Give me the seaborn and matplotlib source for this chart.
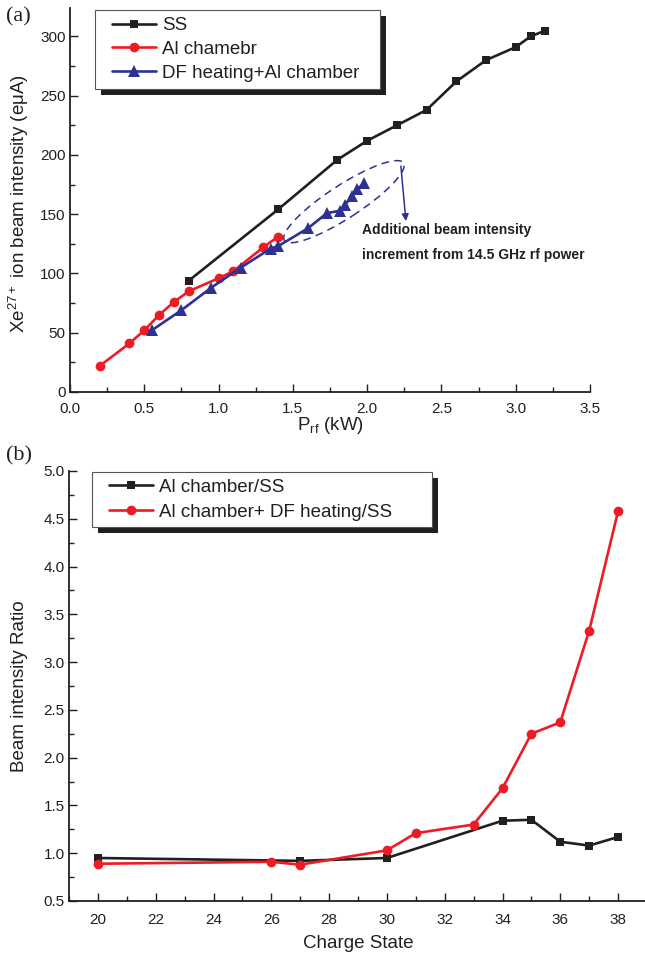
import matplotlib
matplotlib.use("Agg")
import matplotlib.pyplot as plt
import seaborn as sns
from matplotlib.patches import Ellipse, Rectangle
from matplotlib.transforms import ScaledTranslation, IdentityTransform
from matplotlib.legend_handler import HandlerLine2D
from matplotlib.lines import Line2D
from matplotlib.ticker import MultipleLocator, FormatStrFormatter

# ---------------- data ----------------
prf_ss = [0.8, 1.4, 1.8, 2.0, 2.2, 2.4, 2.6, 2.8, 3.0, 3.1, 3.2]
int_ss = [94, 154, 196, 212, 225, 238, 262, 280, 291, 300, 305]
prf_al = [0.2, 0.4, 0.5, 0.6, 0.7, 0.8, 1.0, 1.1, 1.3, 1.4]
int_al = [22, 41, 52, 65, 76, 85, 96, 102, 122, 131]
prf_df = [0.55, 0.75, 0.95, 1.15, 1.35, 1.4, 1.6, 1.73, 1.82, 1.85, 1.9, 1.93, 1.98]
int_df = [52, 69, 88, 105, 121, 123, 138, 151, 153, 158, 165, 171, 176]
labels_a = ["SS", "Al chamebr", "DF heating+Al chamber"]

cs_al = [20, 27, 30, 34, 35, 36, 37, 38]
ratio_al = [0.95, 0.92, 0.95, 1.34, 1.35, 1.12, 1.08, 1.17]
cs_aldf = [20, 26, 27, 30, 31, 33, 34, 35, 36, 37, 38]
ratio_aldf = [0.89, 0.91, 0.88, 1.03, 1.21, 1.30, 1.68, 2.25, 2.37, 3.33, 4.58]
labels_b = ["Al chamber/SS", "Al chamber+ DF heating/SS"]

BLACK = "#231f20"
RED = "#ed1c24"
BLUE = "#2e3192"

sns.set_style("ticks")
plt.rcParams["font.family"] = ["Liberation Sans", "DejaVu Sans"]
plt.rcParams["mathtext.fontset"] = "custom"
plt.rcParams["mathtext.rm"] = "Liberation Sans"
plt.rcParams["mathtext.it"] = "Liberation Sans:italic"
plt.rcParams["text.color"] = BLACK
plt.rcParams["axes.labelcolor"] = BLACK

fig = plt.figure(figsize=(6.45, 9.57), dpi=100)
ax1 = fig.add_axes([0.10853, 0.59039, 0.80620, 0.40125])
ax2 = fig.add_axes([0.10698, 0.05852, 0.89612, 0.44932])

lw = 1.9
common = dict(estimator=None, sort=False, linewidth=lw, markeredgewidth=0)
sns.lineplot(x=prf_ss, y=int_ss, ax=ax1, color=BLACK, marker="s", markersize=6,
             label=labels_a[0], zorder=3, **common)
sns.lineplot(x=prf_al, y=int_al, ax=ax1, color=RED, marker="o", markersize=7,
             label=labels_a[1], zorder=3, **common)
sns.lineplot(x=prf_df, y=int_df, ax=ax1, color=BLUE, marker="^", markersize=8,
             label=labels_a[2], zorder=4, **common)

sns.lineplot(x=cs_al, y=ratio_al, ax=ax2, color=BLACK, marker="s", markersize=6,
             label=labels_b[0], zorder=3, **common)
sns.lineplot(x=cs_aldf, y=ratio_aldf, ax=ax2, color=RED, marker="o", markersize=7,
             label=labels_b[1], zorder=4, **common)

# ---------------- axes styling ----------------
for ax in (ax1, ax2):
    sns.despine(ax=ax)
    for s in ("left", "bottom"):
        ax.spines[s].set_linewidth(1.3)
        ax.spines[s].set_color(BLACK)
    ax.tick_params(which="both", direction="in", width=1.0, color=BLACK,
                   labelsize=11, labelcolor=BLACK)
    ax.tick_params(which="major", length=6)
    ax.tick_params(which="minor", length=3.5)
    ax.tick_params(axis="y", pad=3)
    ax.set_facecolor("white")

ax1.set_xlim(0, 3.5)
ax1.set_ylim(0, 324)
ax1.xaxis.set_major_locator(MultipleLocator(0.5))
ax1.xaxis.set_minor_locator(MultipleLocator(0.25))
ax1.xaxis.set_major_formatter(FormatStrFormatter("%.1f"))
ax1.yaxis.set_major_locator(MultipleLocator(50))
ax1.yaxis.set_minor_locator(MultipleLocator(25))
ax1.yaxis.set_major_formatter(FormatStrFormatter("%d"))
ax1.tick_params(axis="x", pad=7)

ax2.set_xlim(19, 39)
ax2.set_ylim(0.5, 5.0)
ax2.xaxis.set_major_locator(MultipleLocator(2))
ax2.xaxis.set_minor_locator(MultipleLocator(1))
ax2.xaxis.set_major_formatter(FormatStrFormatter("%d"))
ax2.yaxis.set_major_locator(MultipleLocator(0.5))
ax2.yaxis.set_minor_locator(MultipleLocator(0.25))
ax2.yaxis.set_major_formatter(FormatStrFormatter("%.1f"))
ax2.tick_params(axis="x", pad=9)

ax1.set_xlabel("P$_{\\mathrm{rf}}$ (kW)", fontsize=13.5)
ax1.set_ylabel("Xe$^{27+}$ ion beam intensity (e\u03bcA)", fontsize=13.5)
ax2.set_xlabel("Charge State", fontsize=13.5)
ax2.set_ylabel("Beam intensity Ratio", fontsize=13.5)
ax1.xaxis.set_label_coords(0.5, -0.086)
ax1.yaxis.set_label_coords(-0.098, 0.49)
ax2.xaxis.set_label_coords(0.5, -0.098)
ax2.yaxis.set_label_coords(-0.085, 0.5)
for lab in (ax1.xaxis.label, ax2.xaxis.label, ax1.yaxis.label, ax2.yaxis.label):
    lab.set_va("center")
    lab.set_ha("center")

# ---------------- legends ----------------
hmap = {Line2D: HandlerLine2D(xpad=0.55)}
leg_kw = dict(loc="upper left", mode="expand", borderaxespad=0, fontsize=13.5,
              frameon=True, fancybox=False, framealpha=1, edgecolor="#555555",
              handlelength=2.9, handletextpad=0.3, handler_map=hmap)
h1, l1 = ax1.get_legend_handles_labels()
leg1 = ax1.legend(h1, l1, bbox_to_anchor=(0.048, 0.795, 0.548, 0.2),
                  borderpad=0.38, labelspacing=0.36, **leg_kw)
leg1.get_frame().set_linewidth(0.8)
h2, l2 = ax2.get_legend_handles_labels()
leg2 = ax2.legend(h2, l2, bbox_to_anchor=(0.0398, 0.798, 0.588, 0.2),
                  borderpad=0.35, labelspacing=0.42, **leg_kw)
leg2.get_frame().set_linewidth(0.8)

# ---------------- annotation (panel a) ----------------
trans = fig.dpi_scale_trans + ScaledTranslation(1.844, 160.6, ax1.transData)
ell = Ellipse((0, 0), width=1.42, height=0.33, angle=33, transform=trans,
              fill=False, edgecolor=BLUE, linestyle=(0, (5, 3.5)), linewidth=1.1)
ax1.add_artist(ell)
ax1.annotate("", xy=(2.261, 144.2), xytext=(2.227, 190.6),
             arrowprops=dict(arrowstyle="-|>", color=BLUE, lw=1.1,
                             mutation_scale=10, shrinkA=0, shrinkB=0))
ax1.text(1.963, 136.6, "Additional beam intensity", fontsize=10,
         fontweight="bold", va="center", ha="left", color=BLACK)
ax1.text(1.963, 115.5, "increment from 14.5 GHz rf power", fontsize=10,
         fontweight="bold", va="center", ha="left", color=BLACK)

# panel labels
fig.text(6 / 645, 1 - 17 / 957, "(a)", family=["Liberation Serif"], fontsize=16,
         va="center", ha="left", color=BLACK)
fig.text(6 / 645, 1 - 456 / 957, "(b)", family=["Liberation Serif"], fontsize=16,
         va="center", ha="left", color=BLACK)

# ---------------- legend shadows ----------------
fig.canvas.draw()
for ax, leg in ((ax1, leg1), (ax2, leg2)):
    bb = leg.get_frame().get_window_extent()
    rect = Rectangle((bb.x0 + 6, bb.y0 - 6), bb.width, bb.height,
                     transform=IdentityTransform(), facecolor=BLACK,
                     edgecolor="none", zorder=leg.get_zorder() - 0.1)
    ax.add_artist(rect)

fig.savefig("out.png", dpi=100, facecolor="white")
